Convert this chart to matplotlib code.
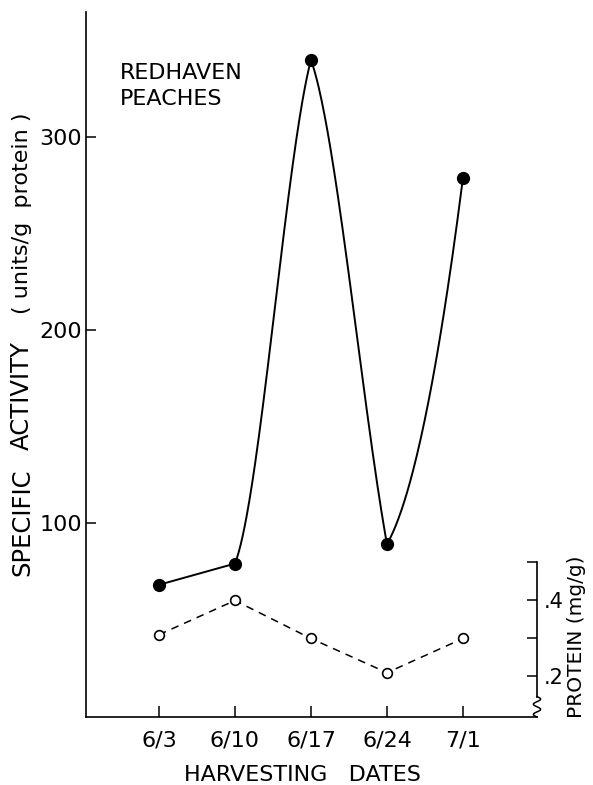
import numpy as np
import matplotlib
matplotlib.use('Agg')
import matplotlib.pyplot as plt

# harvest dates and measurements
dates = ['6/3', '6/10', '6/17', '6/24', '7/1']
activity = [68, 79, 340, 89, 279]        # units/g protein
protein = [0.31, 0.40, 0.30, 0.21, 0.30]  # mg/g

# end tangents for the smooth part of the activity curve (6/10 -> 7/1)
seg_slopes = [(100, 150), (-110, -220), (70, 310)]


def hermite(x0, x1, y0, y1, m0, m1, n=80):
    t = np.linspace(0, 1, n)
    h = x1 - x0
    h00 = 2*t**3 - 3*t**2 + 1
    h10 = t**3 - 2*t**2 + t
    h01 = -2*t**3 + 3*t**2
    h11 = t**3 - t**2
    y = h00*y0 + h10*h*m0 + h01*y1 + h11*h*m1
    return x0 + t*h, y


plt.rcParams['font.family'] = 'DejaVu Sans'
fig = plt.figure(figsize=(5.93, 7.85), dpi=100)
ax = fig.add_axes([86/593, 1-717/785, (537-86)/593, (717-12)/785])

x = np.arange(len(dates))

# activity: straight first leg, then smooth curve
cx = [x[0]]
cy = [activity[0]]
for i, (m0, m1) in enumerate(seg_slopes):
    j = i + 1
    sx, sy = hermite(x[j], x[j+1], activity[j], activity[j+1], m0, m1)
    cx.extend(sx)
    cy.extend(sy)
ax.plot(cx, cy, color='black', lw=1.4, solid_capstyle='round')
ax.plot(x, activity, 'o', color='black', ms=8.5, zorder=5)

ax.set_xlim(-0.96, 4.974)
ax.set_ylim(-0.5, 364.8)
ax.set_xticks(x)
ax.set_xticklabels(dates, fontsize=16)
ax.set_yticks([100, 200, 300])
ax.set_yticklabels(['100', '200', '300'], fontsize=16)
ax.tick_params(axis='y', direction='in', length=7, width=1.1, pad=3)
ax.tick_params(axis='x', direction='in', length=8, width=1.1, pad=10)
for s in ['top', 'right']:
    ax.spines[s].set_visible(False)
for s in ['left', 'bottom']:
    ax.spines[s].set_linewidth(1.2)

# protein on its own short scale at the right
ax2 = ax.twinx()
ax2.set_ylim(0.0934, 1.9487)
ax2.plot(x, protein, color='black', lw=1.1, ls=(0, (5, 4)),
         marker='o', ms=7, mfc='white', mec='black', mew=1.2)
for s in ['top', 'left', 'bottom']:
    ax2.spines[s].set_visible(False)
ax2.spines['right'].set_bounds(0.145, 0.5)
ax2.spines['right'].set_linewidth(1.2)
ax2.set_yticks([0.2, 0.3, 0.4, 0.5])
ax2.set_yticklabels(['.2', '', '.4', ''], fontsize=15)
ax2.tick_params(axis='y', direction='in', length=7, width=1.1, pad=5)

# axis break on the protein scale
s = np.linspace(0, 1, 60)
ax2.plot(1 + 0.008*np.sin(2*np.pi*2*s), 0.029*(1 - s), color='black', lw=1.1,
         transform=ax2.transAxes, clip_on=False)

fig.text(120/593, 1-63/785, 'REDHAVEN\nPEACHES', fontsize=16,
         ha='left', va='top', linespacing=1.4)

# y label, word by word
fig.text(22/593, 1-522/785, 'SPECIFIC', rotation=90, fontsize=17.5,
         ha='center', va='center')
fig.text(22/593, 1-396/785, 'ACTIVITY', rotation=90, fontsize=17.5,
         ha='center', va='center')
fig.text(22/593, 1-213/785, '( units/g  protein )', rotation=90, fontsize=16,
         ha='center', va='center')

fig.text(302/593, 1-775/785, 'HARVESTING   DATES', fontsize=16,
         ha='center', va='center')
fig.text(577/593, 1-637/785, 'PROTEIN (mg/g)', rotation=90, fontsize=14.5,
         ha='center', va='center')

fig.savefig('out.png', dpi=100)
